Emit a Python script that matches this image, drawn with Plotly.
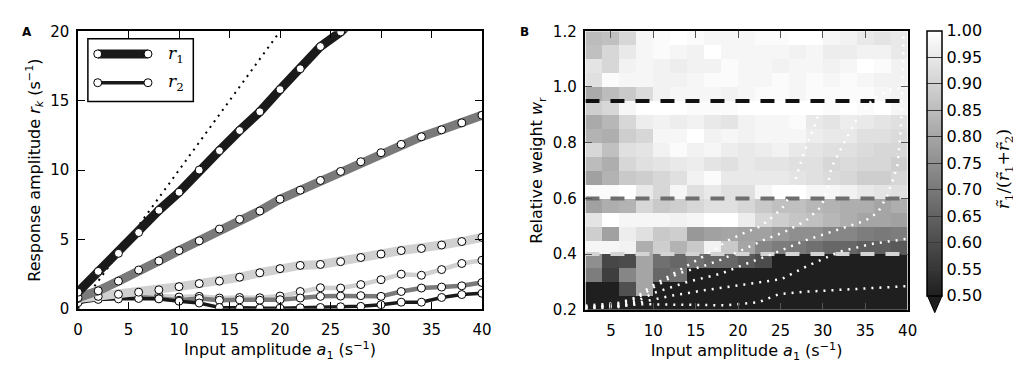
import plotly.graph_objects as go

W, H = 1021, 365

# ---------------- Panel A data ----------------
a1 = list(range(0, 41, 2))
r1_black = [1.2, 2.7, 4.0, 5.5, 7.1, 8.4, 10.0, 11.4, 12.85, 14.2, 15.8, 17.3, 18.9, 19.95, 21.3,
            None, None, None, None, None, None]
r1_gray = [0.8, 1.3, 2.0, 2.8, 3.45, 4.2, 4.9, 5.75, 6.45, 7.05, 7.9, 8.55, 9.25, 9.9, 10.6,
           11.25, 11.85, 12.4, 12.9, 13.4, 13.95]
r1_light = [0.75, 0.9, 1.05, 1.2, 1.37, 1.6, 1.82, 2.0, 2.28, 2.6, 2.9, 3.13, 3.2, 3.4, 3.7,
            3.95, 4.2, 4.35, 4.6, 4.85, 5.15]
r2_light = [0.7, 1.0, 1.0, 1.05, 0.95, 0.85, 0.9, 0.78, 0.82, 0.8, 0.92, 1.25, 1.52, 1.5, 1.75,
            2.1, 2.5, 2.42, 2.83, 3.27, 3.5]
r2_gray = [0.6, 0.8, 0.82, 0.85, 0.75, 0.62, 0.75, 0.62, 0.65, 0.62, 0.66, 0.78, 0.9, 0.92, 0.95,
           0.9, 1.25, 1.5, 1.57, 1.66, 1.9]
r2_black = [0.45, 0.68, 0.72, 0.75, 0.72, 0.55, 0.42, 0.1, 0.05, 0.05, 0.05, 0.08, 0.1, 0.15, 0.18,
            0.3, 0.48, 0.48, 0.82, 1.03, 1.12]
identity_x = [0, 19.8]          # reference line r = a1
x_ticks_A = [0, 5, 10, 15, 20, 25, 30, 35, 40]
y_ticks_A = [0, 5, 10, 15, 20]

# ---------------- Panel B data ----------------
a1_cells = list(range(3, 40, 2))                         # 19 columns
wr_cells = [round(0.225 + 0.05 * i, 3) for i in range(20)]  # 20 rows (bottom -> top)
rows_top_to_bottom = [
    [0.85, 0.86, 0.91, 0.98, 0.99, 1.00, 0.99, 0.98, 0.98, 0.98, 0.99, 0.99, 1.00, 1.00, 0.98, 0.97, 0.95, 0.94, 0.95],
    [0.86, 0.91, 0.95, 0.98, 0.99, 0.98, 0.97, 1.00, 0.98, 0.98, 0.98, 0.98, 0.97, 0.98, 0.96, 0.96, 0.97, 0.97, 0.95],
    [0.94, 0.91, 0.97, 0.98, 0.97, 0.96, 0.97, 0.97, 0.99, 0.98, 0.98, 0.97, 0.98, 0.98, 0.97, 0.98, 1.00, 0.99, 0.97],
    [0.93, 0.99, 0.98, 0.98, 0.97, 0.97, 0.98, 0.99, 0.99, 0.98, 0.98, 0.99, 0.98, 0.99, 0.98, 0.99, 0.98, 0.97, 0.97],
    [0.81, 0.85, 0.88, 0.92, 0.97, 0.98, 0.98, 0.98, 0.97, 0.98, 0.99, 0.99, 0.98, 0.99, 0.99, 0.99, 0.99, 0.98, 0.97],
    [0.89, 0.91, 0.98, 1.00, 1.00, 1.00, 0.99, 0.99, 0.99, 1.00, 1.00, 1.00, 1.00, 1.00, 0.99, 1.00, 0.99, 1.00, 0.98],
    [0.81, 0.84, 0.91, 0.96, 0.97, 0.96, 0.97, 0.95, 0.94, 0.97, 0.98, 0.98, 0.99, 0.95, 0.94, 0.96, 0.95, 0.94, 0.93],
    [0.83, 0.82, 0.89, 0.91, 0.98, 0.98, 1.00, 0.97, 0.98, 0.97, 0.98, 0.98, 0.98, 0.96, 0.95, 0.95, 0.93, 0.93, 0.92],
    [0.91, 0.86, 0.93, 0.94, 0.97, 0.99, 0.97, 0.98, 0.96, 0.95, 0.96, 0.97, 0.95, 0.94, 0.93, 0.93, 0.92, 0.91, 0.91],
    [0.85, 0.82, 0.91, 0.93, 0.94, 0.95, 0.96, 0.94, 0.93, 0.95, 0.94, 0.94, 0.93, 0.93, 0.91, 0.92, 0.91, 0.91, 0.89],
    [0.79, 0.83, 0.88, 0.89, 0.91, 0.93, 0.97, 0.99, 0.95, 0.95, 0.95, 0.95, 0.94, 0.93, 0.92, 0.91, 0.89, 0.89, 0.91],
    [0.99, 0.99, 1.00, 0.95, 0.91, 0.98, 0.93, 0.95, 0.93, 0.93, 0.98, 1.00, 1.00, 0.98, 0.98, 0.97, 0.95, 0.94, 0.93],
    [0.79, 0.82, 0.83, 0.91, 0.88, 0.89, 0.91, 0.93, 0.93, 0.91, 0.88, 0.86, 0.86, 0.84, 0.83, 0.82, 0.82, 0.80, 0.82],
    [0.94, 1.00, 0.98, 0.98, 0.98, 0.97, 0.98, 1.00, 1.00, 0.96, 0.91, 0.89, 0.87, 0.86, 0.84, 0.82, 0.80, 0.80, 0.79],
    [0.89, 0.79, 0.96, 0.93, 0.88, 0.89, 0.77, 0.79, 0.80, 0.79, 0.79, 0.77, 0.75, 0.75, 0.73, 0.73, 0.71, 0.70, 0.71],
    [0.98, 0.98, 0.97, 0.82, 0.89, 0.83, 0.88, 0.97, 0.88, 0.80, 0.73, 0.71, 0.70, 0.68, 0.66, 0.66, 0.64, 0.64, 0.63],
    [0.75, 0.59, 0.60, 0.80, 0.68, 0.66, 0.68, 0.66, 0.66, 0.63, 0.60, 0.45, 0.45, 0.45, 0.45, 0.45, 0.45, 0.45, 0.45],
    [0.71, 0.57, 0.73, 0.80, 0.66, 0.68, 0.45, 0.45, 0.45, 0.45, 0.45, 0.45, 0.45, 0.45, 0.45, 0.45, 0.45, 0.45, 0.45],
    [0.45, 0.45, 0.61, 0.80, 0.45, 0.45, 0.45, 0.45, 0.45, 0.45, 0.45, 0.45, 0.45, 0.45, 0.45, 0.45, 0.45, 0.45, 0.45],
    [0.45, 0.45, 0.45, 0.45, 0.45, 0.45, 0.45, 0.45, 0.45, 0.45, 0.45, 0.45, 0.45, 0.45, 0.45, 0.45, 0.45, 0.45, 0.45],
]
ratio_z = rows_top_to_bottom[::-1]

wr_levels = [0.95, 0.6, 0.4]
wr_level_colors = ['#111111', '#6e6e6e', '#d4d4d4']

# white dotted boundary curves
curve_A_x = [2, 6, 8, 9.5, 11.8, 14, 15.8, 18.9, 20.8, 22.7, 24.3, 25.5, 26.5, 27.3, 28.2, 29.0, 29.7]
curve_A_y = [0.215, 0.225, 0.245, 0.28, 0.32, 0.36, 0.39, 0.45, 0.477, 0.5, 0.54, 0.575, 0.64, 0.72, 0.8, 0.86, 0.92]
curve_B_x = [2, 6, 8, 10, 12.9, 16, 18, 20.8, 23, 25.5, 28, 29.8, 30.4, 31, 32.5, 34.1, 36, 37.9, 40]
curve_B_y = [0.21, 0.22, 0.24, 0.28, 0.33, 0.358, 0.38, 0.42, 0.45, 0.48, 0.52, 0.57, 0.62, 0.71, 0.8, 0.89, 0.96, 0.99, 1.0]
curve_C_x = [2, 6, 8, 10, 14, 18, 20.5, 24, 28, 32, 35, 36.5, 37.6, 38.3, 38.8, 39.2, 39.4, 39.5, 39.5]
curve_C_y = [0.21, 0.215, 0.23, 0.26, 0.3, 0.33, 0.36, 0.4, 0.45, 0.49, 0.52, 0.55, 0.61, 0.67, 0.72, 0.85, 1.0, 1.13, 1.2]
curve_D_x = [2, 6, 9, 12, 16, 20.5, 25.1, 28.2, 32.1, 36, 40]
curve_D_y = [0.205, 0.21, 0.23, 0.25, 0.27, 0.29, 0.31, 0.358, 0.41, 0.438, 0.455]
curve_F_x = [2, 8.5, 14, 18.5, 22.4, 24.8, 28, 32, 36, 40]
curve_F_y = [0.205, 0.22, 0.218, 0.216, 0.227, 0.256, 0.265, 0.272, 0.278, 0.285]
curves = [(curve_A_x, curve_A_y), (curve_B_x, curve_B_y), (curve_C_x, curve_C_y),
          (curve_D_x, curve_D_y), (curve_F_x, curve_F_y)]

x_ticks_B = [5, 10, 15, 20, 25, 30, 35, 40]
y_ticks_B = [0.2, 0.4, 0.6, 0.8, 1.0, 1.2]
cbar_ticks = [0.5, 0.55, 0.6, 0.65, 0.7, 0.75, 0.8, 0.85, 0.9, 0.95, 1.0]

# legend glyph geometry (legend axis units)
legend_x = [0, 1]
legend_rows = [0.86, 0.14]

FONT = 'DejaVu Sans'
BLACK, GRAY, LIGHT = '#1a1a1a', '#7a7a7a', '#d0d0d0'

fig = go.Figure()

# ---------------- Panel A ----------------
fig.add_trace(go.Scatter(x=identity_x, y=identity_x, mode='lines',
                         line=dict(color='black', width=2, dash='2px,5px'),
                         xaxis='x', yaxis='y', showlegend=False, hoverinfo='skip'))
series = [(r2_light, LIGHT, 4.5), (r2_gray, GRAY, 4.5), (r2_black, BLACK, 3.5),
          (r1_light, LIGHT, 9), (r1_gray, GRAY, 9), (r1_black, BLACK, 9)]
for ys, col, w in series:
    fig.add_trace(go.Scatter(x=a1, y=ys, mode='lines+markers',
                             line=dict(color=col, width=w),
                             marker=dict(size=8, color='white', line=dict(color='black', width=1)),
                             xaxis='x', yaxis='y', showlegend=False))

# legend glyphs
for yrow, w in zip(legend_rows, [9, 3.5]):
    fig.add_trace(go.Scatter(x=legend_x, y=[yrow, yrow], mode='lines+markers',
                             line=dict(color=BLACK, width=w),
                             marker=dict(size=8, color='white', line=dict(color='black', width=1)),
                             xaxis='x3', yaxis='y3', showlegend=False, cliponaxis=False,
                             hoverinfo='skip'))

# ---------------- Panel B ----------------
fig.add_trace(go.Heatmap(
    x=a1_cells, y=wr_cells, z=ratio_z, zmin=0.5, zmax=1.0,
    colorscale=[[0, '#1f1f1f'], [1, '#ffffff']],
    xaxis='x2', yaxis='y2',
    colorbar=dict(x=928 / W, xanchor='left', y=1 - 293 / H, yanchor='bottom',
                  len=(293 - 14) / H, lenmode='fraction', thickness=15,
                  outlinecolor='black', outlinewidth=1.5, xpad=0, ypad=0,
                  tickvals=cbar_ticks, ticktext=['%.2f' % v for v in cbar_ticks],
                  ticks='inside', ticklen=15, tickcolor='#3a3a3a', tickwidth=1,
                  tickfont=dict(family=FONT, size=16, color='black'))))

for lvl, col in zip(wr_levels, wr_level_colors):
    fig.add_trace(go.Scatter(x=[2, 40], y=[lvl, lvl], mode='lines',
                             line=dict(color=col, width=4, dash='14px,11px'),
                             xaxis='x2', yaxis='y2', showlegend=False, hoverinfo='skip'))
for cx, cy in curves:
    fig.add_trace(go.Scatter(x=cx, y=cy, mode='lines',
                             line=dict(color='white', width=2.5, dash='2px,6px'),
                             xaxis='x2', yaxis='y2', showlegend=False, hoverinfo='skip'))

axis_common = dict(showline=True, linecolor='black', linewidth=1.5, mirror='ticks',
                   ticks='inside', ticklen=7, tickwidth=1, tickcolor='black',
                   showgrid=False, zeroline=False,
                   tickfont=dict(family=FONT, size=15, color='black'))

fig.update_layout(
    width=W, height=H, autosize=False,
    margin=dict(l=0, r=0, t=0, b=0),
    paper_bgcolor='white', plot_bgcolor='white',
    font=dict(family=FONT, size=15, color='black'),
    showlegend=False,
    xaxis=dict(domain=[66 / W, 476 / W], range=[0, 40], tickvals=x_ticks_A, anchor='y',
               title=dict(text='Input amplitude <i>a</i><sub>1</sub> (s<sup>−1</sup>)',
                          font=dict(size=16), standoff=6),
               ticklabelstandoff=6, **axis_common),
    yaxis=dict(domain=[1 - 307 / H, 1 - 15 / H], range=[0, 20], tickvals=y_ticks_A, anchor='x',
               title=dict(text='Response amplitude <i>r<sub>k</sub></i> (s<sup>−1</sup>)',
                          font=dict(size=16), standoff=6),
               ticklabelstandoff=4, **axis_common),
    xaxis2=dict(domain=[581 / W, 908 / W], range=[2, 40], tickvals=x_ticks_B, anchor='y2',
                title=dict(text='Input amplitude <i>a</i><sub>1</sub> (s<sup>−1</sup>)',
                           font=dict(size=16), standoff=6),
                ticklabelstandoff=6, **{**axis_common, 'tickcolor': '#555555'}),
    yaxis2=dict(domain=[1 - 308 / H, 1 - 15 / H], range=[0.2, 1.2], tickvals=y_ticks_B,
                tickformat='.1f', anchor='x2',
                title=dict(text='Relative weight <i>w</i><sub>r</sub>',
                           font=dict(size=16), standoff=6),
                ticklabelstandoff=4, **{**axis_common, 'tickcolor': '#555555'}),
    xaxis3=dict(domain=[86 / W, 137 / W], range=[0, 1], visible=False, anchor='y3'),
    yaxis3=dict(domain=[1 - 75 / H, 1 - 33 / H], range=[0, 1], visible=False, anchor='x3'),
    shapes=[
        dict(type='rect', xref='paper', yref='paper', x0=76 / W, x1=183 / W,
             y0=1 - 89 / H, y1=1 - 23 / H, line=dict(color='black', width=1.5),
             fillcolor='white', layer='below'),
        dict(type='path', xref='paper', yref='paper',
             path='M %f,%f L %f,%f L %f,%f Z' % (928 / W, 1 - 293 / H, 943 / W, 1 - 293 / H,
                                                 935.5 / W, 1 - 311 / H),
             fillcolor='#1e1e1e', line=dict(color='black', width=1)),
    ],
    annotations=[
        dict(text='<b>A</b>', x=7 / W, y=1 - 6 / H, xref='paper', yref='paper',
             xanchor='left', yanchor='top', showarrow=False, font=dict(size=12)),
        dict(text='<b>B</b>', x=513 / W, y=1 - 6 / H, xref='paper', yref='paper',
             xanchor='left', yanchor='top', showarrow=False, font=dict(size=12)),
        dict(text='<i>r</i><sub>1</sub>', x=155 / W, y=1 - 39 / H, xref='paper', yref='paper',
             xanchor='left', yanchor='middle', showarrow=False,
             font=dict(size=17, family='DejaVu Serif')),
        dict(text='<i>r</i><sub>2</sub>', x=155 / W, y=1 - 69 / H, xref='paper', yref='paper',
             xanchor='left', yanchor='middle', showarrow=False,
             font=dict(size=17, family='DejaVu Serif')),
        dict(text='<i>r̃</i><sub>1</sub>/(<i>r̃</i><sub>1</sub>+<i>r̃</i><sub>2</sub>)',
             x=1006 / W, y=1 - 160 / H, xref='paper', yref='paper', textangle=-90,
             xanchor='center', yanchor='middle', showarrow=False,
             font=dict(size=17, family='DejaVu Serif')),
    ],
)

fig.write_html('out.html')
